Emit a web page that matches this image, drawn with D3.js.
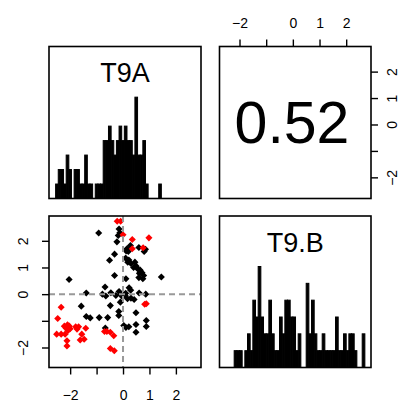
<!DOCTYPE html>
<html><head><meta charset="utf-8">
<script src="https://cdn.jsdelivr.net/npm/d3@7"></script>
<style>
html,body{margin:0;padding:0;background:#fff;}
svg{display:block;font-family:"Liberation Sans",Arial,Helvetica,sans-serif;}
</style>
</head><body>
<svg id="c" width="404" height="413"></svg>
<script>
// ---------- data ----------
const varNames = ["T9A", "T9.B"];
const correlationText = "0.52";
const axisTicks = [-2, -1, 0, 1, 2];
const axisTickLabels = ["\u22122", "", "0", "1", "2"];

// histogram of T9A (bin width 0.1 starting at -2.55)
const t9aBinStart = -2.55;
const t9aBinWidth = 0.1;
const t9aCounts = [1,2,2,1,3,2,0,2,2,1, 1,3,1,1,0,1,1,1,4,4, 5,4,3,4,5,4,5,4,4,3, 7,3,3,4,1,0,0,0,0,1];

// histogram of T9.B (bin width 0.1 starting at -2.2)
const t9bBinStart = -2.2;
const t9bBinWidth = 0.1;
const t9bCounts = [1,1,1,0,1,2,1,4,3,6, 3,2,2,4,2,1,1,3,2,4, 4,3,3,1,2,0,0,5,2,4, 2,1,1,2,1,1,1,1,3,1, 1,2,1,2,2,1,0,0,2,0];

// scatter: red group
const redX = [-0.22,-0.09,0.0,0.35,0.98,0.35,0.76,0.82,0.88,-2.34,-2.47,-2.22,-2.1,-2.03,-2.0,-2.15,-2.08,-2.51,-2.34,-2.19,-2.12,-2.12,-1.79,-1.68,-1.74,-1.41,-1.56,-1.47,-1.62,-0.70,-0.61,-0.48,-0.35,-0.48,-0.33];
const redY = [2.73,2.73,2.23,2.05,2.11,1.70,1.74,-0.38,-0.36,-0.49,-0.91,-1.2,-1.15,-1.2,-1.3,-1.28,-1.36,-1.5,-1.5,-1.5,-1.75,-1.94,-1.22,-1.22,-1.31,-1.28,-1.5,-1.69,-1.72,-1.40,-1.40,-1.43,-1.56,-2.04,-2.12];
// scatter: black group
const blackX = [-0.92,-0.15,-0.12,-0.18,-0.23,0.15,0.2,0.28,0.12,0.6,0.8,0.85,-0.32,-0.51,0.1,0.22,0.18,0.3,0.45,0.5,0.4,0.55,0.65,0.62,0.72,0.78,0.6,0.75,-0.32,0.11,-2.04,1.45,-0.68,-0.78,-0.46,-0.15,0.23,0.29,0.1,0.61,-1.39,-0.65,-0.27,-0.1,-0.02,0.08,0.17,0.3,0.42,0.86,-0.1,-1.58,-0.48,-0.16,-0.16,0.49,-1.39,-1.24,-0.9,-0.58,0.88,0.88,0.03,0.11,0.22,-0.67,0.49,0.49];
const blackY = [2.29,2.44,2.3,2.2,1.96,1.7,1.6,1.82,1.62,1.75,1.6,1.68,1.5,1.27,1.35,1.28,1.2,1.15,1.2,1.05,1.0,0.95,0.9,0.78,0.8,0.7,0.62,0.58,0.7,0.58,0.55,0.64,0.27,0.0,0.05,0.1,0.24,0.15,0.03,0.04,0.04,-0.07,-0.05,0.0,-0.1,-0.05,-0.17,-0.15,-0.2,0.0,-0.3,-0.45,-0.43,-0.65,-0.8,-0.7,-0.84,-0.89,-0.88,-0.88,-0.99,-1.21,-1.18,-1.25,-1.22,-1.27,-1.14,-1.43];

const t9aDomain = [-2.8, 2.95];
const t9bDomain = [-2.75, 2.93];

// ---------- layout ----------
const col = [[49, 201], [219.5, 371]];
const row = [[46.5, 198.5], [216, 367.5]];
const tick = 7;

const svg = d3.select("#c");

// scales
const xA = d3.scaleLinear().domain(t9aDomain).range(col[0]);
const yA = d3.scaleLinear().domain(t9aDomain).range([row[0][1], row[0][0]]);
const xB = d3.scaleLinear().domain(t9bDomain).range(col[1]);
const yB = d3.scaleLinear().domain(t9bDomain).range([row[1][1], row[1][0]]);

// ---------- histograms ----------
function drawHist(g, xs, start, width, counts, r) {
  const bins = counts.map((c, i) => ({x0: start + i * width, x1: start + (i + 1) * width, c}));
  const ymax = d3.max(counts);
  const ys = d3.scaleLinear().domain([0, ymax * 1.5]).range([r[1], r[0]]);
  g.selectAll("rect.bar").data(bins.filter(b => b.c > 0)).enter().append("rect")
    .attr("class", "bar")
    .attr("x", b => xs(b.x0))
    .attr("width", b => xs(b.x1) - xs(b.x0))
    .attr("y", b => ys(b.c))
    .attr("height", b => ys(0) - ys(b.c))
    .attr("fill", "#000")
    .attr("stroke", "#000")
    .attr("stroke-width", 1);
}
drawHist(svg.append("g"), xA, t9aBinStart, t9aBinWidth, t9aCounts, row[0]);
drawHist(svg.append("g"), xB, t9bBinStart, t9bBinWidth, t9bCounts, row[1]);

// variable names
svg.append("text").attr("x", (col[0][0] + col[0][1]) / 2).attr("y", 82)
  .attr("text-anchor", "middle").attr("font-size", 27).text(varNames[0]);
svg.append("text").attr("x", (col[1][0] + col[1][1]) / 2).attr("y", 252)
  .attr("text-anchor", "middle").attr("font-size", 27).text(varNames[1]);

// correlation
svg.append("text").attr("x", 292).attr("y", 143)
  .attr("text-anchor", "middle").attr("font-size", 59).text(correlationText);

// ---------- scatter ----------
const sc = svg.append("g");
const sym = d3.symbol().type(d3.symbolSquare).size(25);
const pts = blackX.map((x, i) => ({x, y: blackY[i], c: "#000"}))
  .concat(redX.map((x, i) => ({x, y: redY[i], c: "#ff0000"})));
sc.selectAll("path.pt").data(pts).enter().append("path")
  .attr("class", "pt")
  .attr("d", sym)
  .attr("transform", d => `translate(${xA(d.x)},${yB(d.y)}) rotate(45)`)
  .attr("fill", d => d.c);

// reference lines
sc.append("line").attr("x1", xA(0)).attr("x2", xA(0)).attr("y1", row[1][0]).attr("y2", row[1][1])
  .attr("stroke", "#999").attr("stroke-width", 2).attr("stroke-dasharray", "6,4");
sc.append("line").attr("x1", col[0][0]).attr("x2", col[0][1]).attr("y1", yB(0)).attr("y2", yB(0))
  .attr("stroke", "#999").attr("stroke-width", 2).attr("stroke-dasharray", "6,4");

// ---------- axes ----------
const fmt = d => axisTickLabels[axisTicks.indexOf(d)];
function styleAxis(g) {
  g.select(".domain").remove();
  g.selectAll(".tick line").attr("stroke", "#000").attr("stroke-width", 1.4);
  g.selectAll(".tick text").attr("fill", "#000").attr("font-size", 14)
    .attr("font-family", '"Liberation Sans",Arial,Helvetica,sans-serif');
}
const gb = svg.append("g").attr("transform", `translate(0,${row[1][1]})`)
  .call(d3.axisBottom(xA).tickValues(axisTicks).tickFormat(fmt).tickSize(tick));
styleAxis(gb);
gb.selectAll(".tick text").attr("y", 32.5).attr("dy", 0);

const gt = svg.append("g").attr("transform", `translate(0,${row[0][0]})`)
  .call(d3.axisTop(xB).tickValues(axisTicks).tickFormat(fmt).tickSize(tick));
styleAxis(gt);
gt.selectAll(".tick text").attr("y", -18.2).attr("dy", 0);

const gl = svg.append("g").attr("transform", `translate(${col[0][0]},0)`)
  .call(d3.axisLeft(yB).tickValues(axisTicks).tickFormat(fmt).tickSize(tick));
styleAxis(gl);
gl.selectAll(".tick text").attr("x", 0).attr("y", -21).attr("dy", 0)
  .attr("text-anchor", "middle").attr("transform", "rotate(-90)");

const gr = svg.append("g").attr("transform", `translate(${col[1][1]},0)`)
  .call(d3.axisRight(yA).tickValues(axisTicks).tickFormat(fmt).tickSize(tick));
styleAxis(gr);
gr.selectAll(".tick text").attr("x", 0).attr("y", 25.7).attr("dy", 0)
  .attr("text-anchor", "middle").attr("transform", "rotate(-90)");

// ---------- panel frames ----------
for (let r = 0; r < 2; r++) for (let c = 0; c < 2; c++) {
  svg.append("rect").attr("x", col[c][0]).attr("y", row[r][0])
    .attr("width", col[c][1] - col[c][0]).attr("height", row[r][1] - row[r][0])
    .attr("fill", "none").attr("stroke", "#000").attr("stroke-width", 1.6);
}
</script>
</body></html>
